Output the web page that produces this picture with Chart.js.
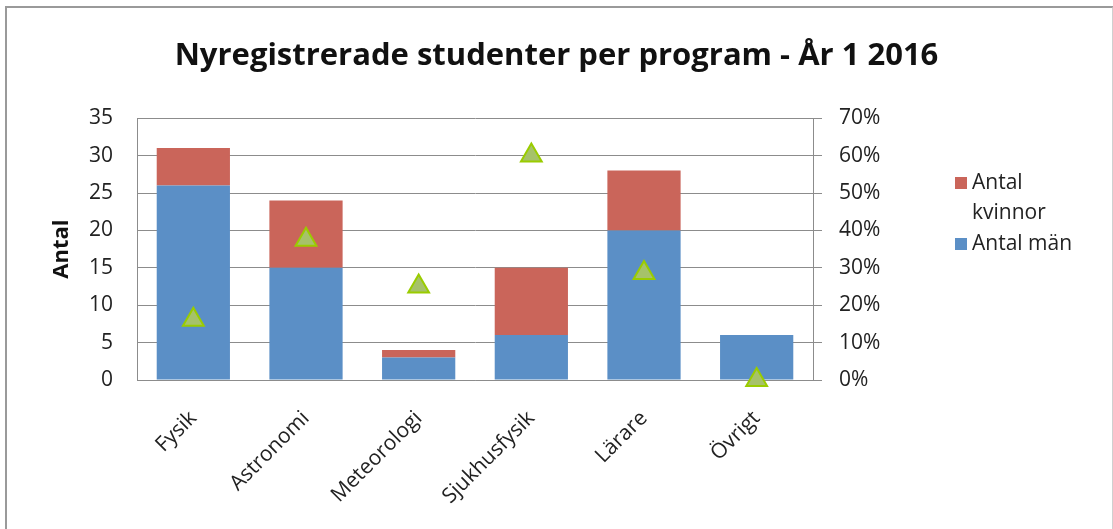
<!DOCTYPE html>
<html lang="sv">
<head>
<meta charset="utf-8">
<script src="https://cdn.jsdelivr.net/npm/chart.js@4"></script>
<style>
  html, body { margin: 0; padding: 0; background: #fff; }
  #wrap { position: relative; width: 1113px; height: 529px; overflow: hidden; }
  #frame {
    position: absolute; left: 5px; top: 6px; width: 1105px; height: 540px;
    border-left: 2px solid #9a9a9a; border-top: 2px solid #9a9a9a;
    border-right: 2px solid #d0d0d0; pointer-events: none;
  }
  canvas { position: absolute; left: 0; top: 0; }
</style>
</head>
<body>
<div id="wrap">
  <canvas id="chart" width="1113" height="529"></canvas>
  <div id="frame"></div>
</div>
<script>
// data
const programs = ['Fysik', 'Astronomi', 'Meteorologi', 'Sjukhusfysik', 'Lärare', 'Övrigt'];
const antalMan = [26, 15, 3, 6, 20, 6];
const antalKvinnor = [5, 9, 1, 9, 8, 0];
const andelKvinnor = [16.1, 37.5, 25, 60, 28.6, 0];   // percent, right axis
const leftTicks = [0, 5, 10, 15, 20, 25, 30, 35];
const rightTicks = [0, 10, 20, 30, 40, 50, 60, 70];

const FONT = '"Open Sans", "Liberation Sans", sans-serif';
const BLUE = '#5B8FC6';
const RED = '#CA655A';
const GRID = '#8c8c8c';

// legend drawn by hand, so "Antal kvinnor" can wrap like in the original
const sideLegend = {
  id: 'sideLegend',
  afterDraw(chart) {
    const ctx = chart.ctx;
    const items = [
      { lines: ['Antal', 'kvinnor'], color: RED },
      { lines: ['Antal män'], color: BLUE }
    ];
    const x = 955;
    let y = 183;
    ctx.save();
    ctx.font = '21px ' + FONT;
    ctx.textBaseline = 'middle';
    items.forEach(item => {
      ctx.fillStyle = item.color;
      ctx.fillRect(x, y - 6, 12, 12);
      ctx.fillStyle = '#222';
      item.lines.forEach((line, i) => {
        ctx.fillText(line, x + 17, y + i * 30);
      });
      y += item.lines.length * 30 + 1;
    });
    ctx.restore();
  }
};

new Chart(document.getElementById('chart'), {
  type: 'bar',
  data: {
    labels: programs,
    datasets: [
      {
        type: 'line',
        label: 'Andel kvinnor',
        data: andelKvinnor,
        yAxisID: 'y1',
        showLine: false,
        clip: false,
        pointStyle: 'triangle',
        pointRadius: 12,
        pointBackgroundColor: '#A6C26A',
        pointBorderColor: '#9ACC00',
        pointBorderWidth: 2,
        order: 0
      },
      {
        label: 'Antal män',
        data: antalMan,
        backgroundColor: BLUE,
        stack: 's',
        order: 1
      },
      {
        label: 'Antal kvinnor',
        data: antalKvinnor,
        backgroundColor: RED,
        stack: 's',
        order: 1
      }
    ]
  },
  options: {
    responsive: false,
    animation: false,
    layout: { padding: 0 },
    datasets: {
      bar: { barPercentage: 1, categoryPercentage: 0.65 }
    },
    scales: {
      x: {
        stacked: true,
        grid: { display: false, drawTicks: false },
        border: { display: true, color: GRID, width: 1 },
        ticks: {
          minRotation: 45, maxRotation: 45, padding: 26,
          color: '#222', font: { family: FONT, size: 21 }
        },
        afterFit(scale) { scale.height = 149; }
      },
      y: {
        stacked: true,
        min: 0, max: 35,
        afterBuildTicks(scale) { scale.ticks = leftTicks.map(v => ({ value: v })); },
        grid: { color: GRID, drawTicks: false },
        border: { display: true, color: GRID },
        ticks: { padding: 24, color: '#222', font: { family: FONT, size: 21 } },
        title: {
          display: true, text: 'Antal', color: '#111',
          font: { family: FONT, size: 22, weight: 'bold' },
          padding: { top: 49, bottom: 0 }
        },
        afterFit(scale) { scale.width = 137; }
      },
      y1: {
        position: 'right',
        min: 0, max: 70,
        afterBuildTicks(scale) { scale.ticks = rightTicks.map(v => ({ value: v })); },
        grid: { drawOnChartArea: false, color: GRID, tickLength: 9 },
        border: { display: true, color: GRID },
        ticks: {
          padding: 17, color: '#222', font: { family: FONT, size: 21 },
          callback: v => v + '%'
        },
        afterFit(scale) { scale.width = 300; }
      }
    },
    plugins: {
      legend: { display: false },
      tooltip: { enabled: false },
      title: {
        display: true,
        text: 'Nyregistrerade studenter per program - År 1 2016',
        color: '#111',
        font: { family: FONT, size: 31, weight: 'bold' },
        padding: { top: 38, bottom: 43 }
      }
    }
  },
  plugins: [sideLegend]
});
</script>
</body>
</html>
